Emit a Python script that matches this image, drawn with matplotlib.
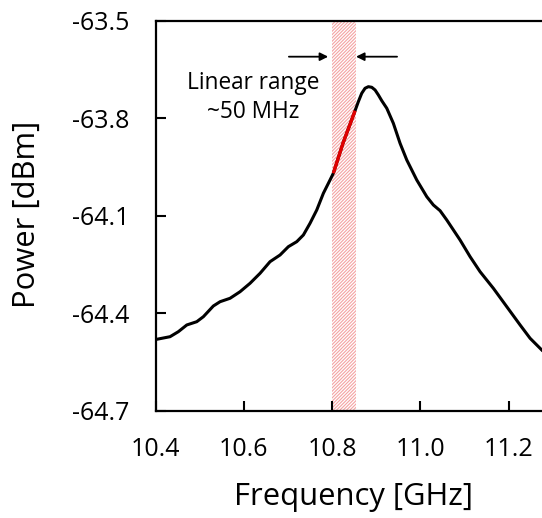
import matplotlib
matplotlib.use("Agg")
import matplotlib.pyplot as plt
import numpy as np

plt.rcParams['font.family'] = ['Open Sans', 'DejaVu Sans']
plt.rcParams['hatch.linewidth'] = 0.8

# spectrum (GHz, dBm)
freq = [10.4027, 10.4328, 10.4516, 10.4707, 10.4933, 10.5083, 10.5309, 10.5461,
        10.5687, 10.5914, 10.6140, 10.6367, 10.6593, 10.6820, 10.7008, 10.7198,
        10.7348, 10.7499, 10.7651, 10.7801, 10.7952, 10.8027, 10.8247, 10.8519,
        10.8593, 10.8670, 10.8745, 10.8820, 10.8897, 10.8972, 10.9047, 10.9123,
        10.9237, 10.9386, 10.9538, 10.9690, 10.9916, 11.0143, 11.0292, 11.0444,
        11.0596, 11.0897, 11.1124, 11.1350, 11.1651, 11.1955, 11.2257, 11.2483,
        11.2748]
power = [-64.4806, -64.4726, -64.4572, -64.4365, -64.4264, -64.4110, -64.3780,
         -64.3648, -64.3543, -64.3340, -64.3081, -64.2773, -64.2415, -64.2209,
         -64.1953, -64.1799, -64.1593, -64.1232, -64.0823, -64.0308, -63.9898,
         -63.9692, -63.8758, -63.7763, -63.7486, -63.7227, -63.7073, -63.7024,
         -63.7043, -63.7126, -63.7280, -63.7455, -63.7689, -63.8152, -63.8768,
         -63.9282, -63.9898, -64.0413, -64.0668, -64.0844, -64.1131, -64.1747,
         -64.2261, -64.2723, -64.3235, -64.3802, -64.4365, -64.4775, -64.5136]

lin_lo, lin_hi = 10.800, 10.853   # linear range band (hatched)
red_lo, red_hi = 10.802, 10.852   # red part of the curve
xticks = [10.4, 10.6, 10.8, 11.0, 11.2]
yticks = [-63.5, -63.8, -64.1, -64.4, -64.7]

freq = np.array(freq)
power = np.array(power)

fig = plt.figure(figsize=(5.42, 5.18), dpi=100)
ax = fig.add_axes([0.287, 0.2075, 0.8146, 0.752])

ax.axvspan(lin_lo, lin_hi, facecolor='none', edgecolor='#f4a3a3',
           hatch='//////////', linewidth=0, zorder=1)

ax.plot(freq, power, color='black', lw=2.2, zorder=3, solid_joinstyle='round')
m = (freq >= red_lo) & (freq <= red_hi)
ax.plot(freq[m], power[m], color='#e00000', lw=2.4, zorder=4, solid_capstyle='butt')

# arrows pointing at the band
ax.annotate('', xy=(10.791, -63.61), xytext=(10.702, -63.61),
            arrowprops=dict(arrowstyle='-|>', color='black', lw=1.3,
                            mutation_scale=12, shrinkA=0, shrinkB=0))
ax.annotate('', xy=(10.854, -63.61), xytext=(10.947, -63.61),
            arrowprops=dict(arrowstyle='-|>', color='black', lw=1.3,
                            mutation_scale=12, shrinkA=0, shrinkB=0))
ax.text(10.621, -63.735, 'Linear range\n~50 MHz', ha='center', va='center',
        fontsize=16.3, linespacing=1.3)

ax.set_xlim(10.4, 11.4)
ax.set_ylim(-64.7, -63.5)
ax.set_xticks(xticks)
ax.set_xticklabels([f'{t:.1f}' for t in xticks])
ax.set_yticks(yticks)
ax.set_yticklabels([f'{t:.1f}' for t in yticks])
ax.tick_params(direction='in', length=7, width=1.5, labelsize=18)
ax.tick_params(axis='y', pad=19)
ax.tick_params(axis='x', pad=19)
for s in ax.spines.values():
    s.set_linewidth(1.6)

fig.text(353 / 542, 1 - 497 / 518, 'Frequency [GHz]', ha='center', va='center', fontsize=22.3)
fig.text(27 / 542, 1 - 214 / 518, 'Power [dBm]', ha='center', va='center',
         rotation=90, fontsize=22.3)

fig.savefig('out.png', dpi=100)
